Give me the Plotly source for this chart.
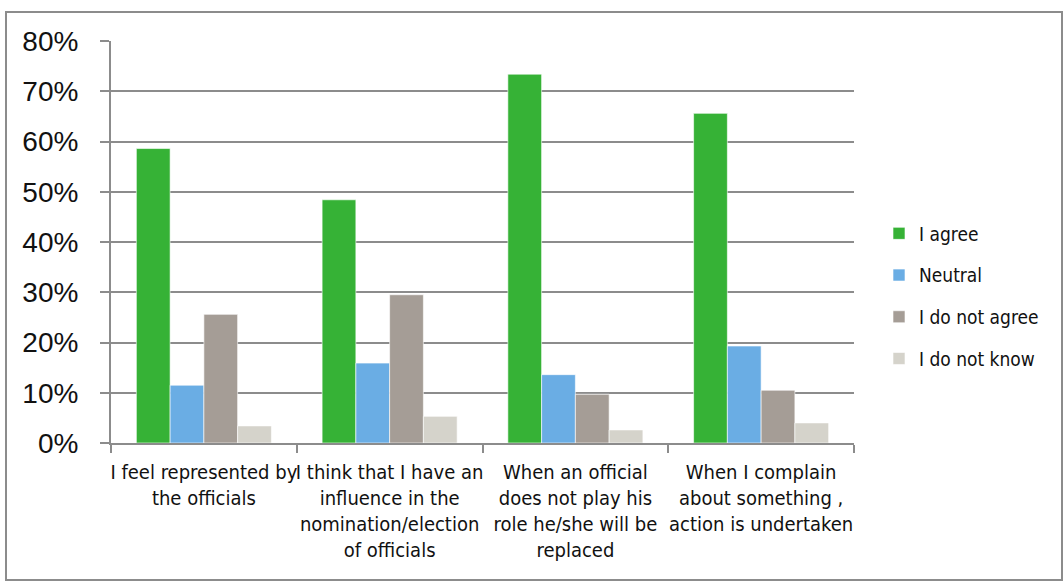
import plotly.graph_objects as go

categories = [
    "I feel represented by<br>the officials",
    "I think that I have an<br>influence in the<br>nomination/election<br>of officials",
    "When an official<br>does not play his<br>role he/she will be<br>replaced",
    "When I complain<br>about something ,<br>action is undertaken",
]
series_names = ["I agree", "Neutral", "I do not agree", "I do not know"]
agree = [0.586, 0.484, 0.734, 0.656]
neutral = [0.115, 0.159, 0.136, 0.193]
disagree = [0.256, 0.295, 0.097, 0.105]
dont_know = [0.034, 0.053, 0.026, 0.040]
colors = ["#36B236", "#6AADE4", "#A59D96", "#D5D3CB"]
y_ticks = [0, 0.1, 0.2, 0.3, 0.4, 0.5, 0.6, 0.7, 0.8]
y_tick_labels = ["0%", "10%", "20%", "30%", "40%", "50%", "60%", "70%", "80%"]

narrow = "Liberation Sans Narrow, Arial Narrow, DejaVu Sans Condensed, sans-serif"

fig = go.Figure()
for name, vals, col in zip(series_names, [agree, neutral, disagree, dont_know], colors):
    fig.add_trace(go.Bar(
        x=categories, y=vals, name=name, legendgroup=name,
        marker=dict(color=col, line=dict(color="rgba(255,255,255,0.6)", width=1)),
    ))

W, H = 1064, 585
L, R, T, B = 111, 210, 41, 142
pw, ph = W - L - R, H - T - B

def px_x(x):
    return (x - L) / pw

def px_y(y):
    return (H - B - y) / ph

fig.update_layout(
    width=W, height=H,
    margin=dict(l=L, r=R, t=T, b=B, pad=0, autoexpand=False),
    paper_bgcolor="white", plot_bgcolor="white",
    barmode="group", bargap=0.273, bargroupgap=0,
    font=dict(family=narrow, color="#111111"),
    legend=dict(
        x=px_x(879), y=px_y(296), xanchor="left", yanchor="middle",
        font=dict(size=19, family=narrow), traceorder="grouped",
        tracegroupgap=14, itemwidth=30, bgcolor="rgba(0,0,0,0)",
    ),
    xaxis=dict(
        showline=True, linecolor="#8C8C8C", linewidth=2,
        ticks="outside", tickson="boundaries", ticklen=8, tickcolor="#8C8C8C", tickwidth=1.5,
        tickfont=dict(size=20, family=narrow, color="#111111"),
        tickangle=0, showgrid=False, automargin=False, ticklabelstandoff=10,
    ),
    yaxis=dict(
        range=[0, 0.8], tickvals=y_ticks, ticktext=y_tick_labels,
        showline=True, linecolor="#8C8C8C", linewidth=2,
        ticks="outside", ticklen=9, tickcolor="#8C8C8C", tickwidth=1.5,
        showgrid=True, gridcolor="#8C8C8C", gridwidth=2,
        tickfont=dict(size=28, family="Liberation Sans, Arial, sans-serif", color="#111111"),
        zeroline=False, automargin=False, ticklabelstandoff=16,
    ),
    shapes=[dict(
        type="rect", xref="paper", yref="paper",
        x0=px_x(6), x1=px_x(1062), y0=px_y(580), y1=px_y(12),
        line=dict(color="#8C8C8C", width=2), fillcolor="rgba(0,0,0,0)", layer="below",
    )],
)

fig.write_html("out.html")
